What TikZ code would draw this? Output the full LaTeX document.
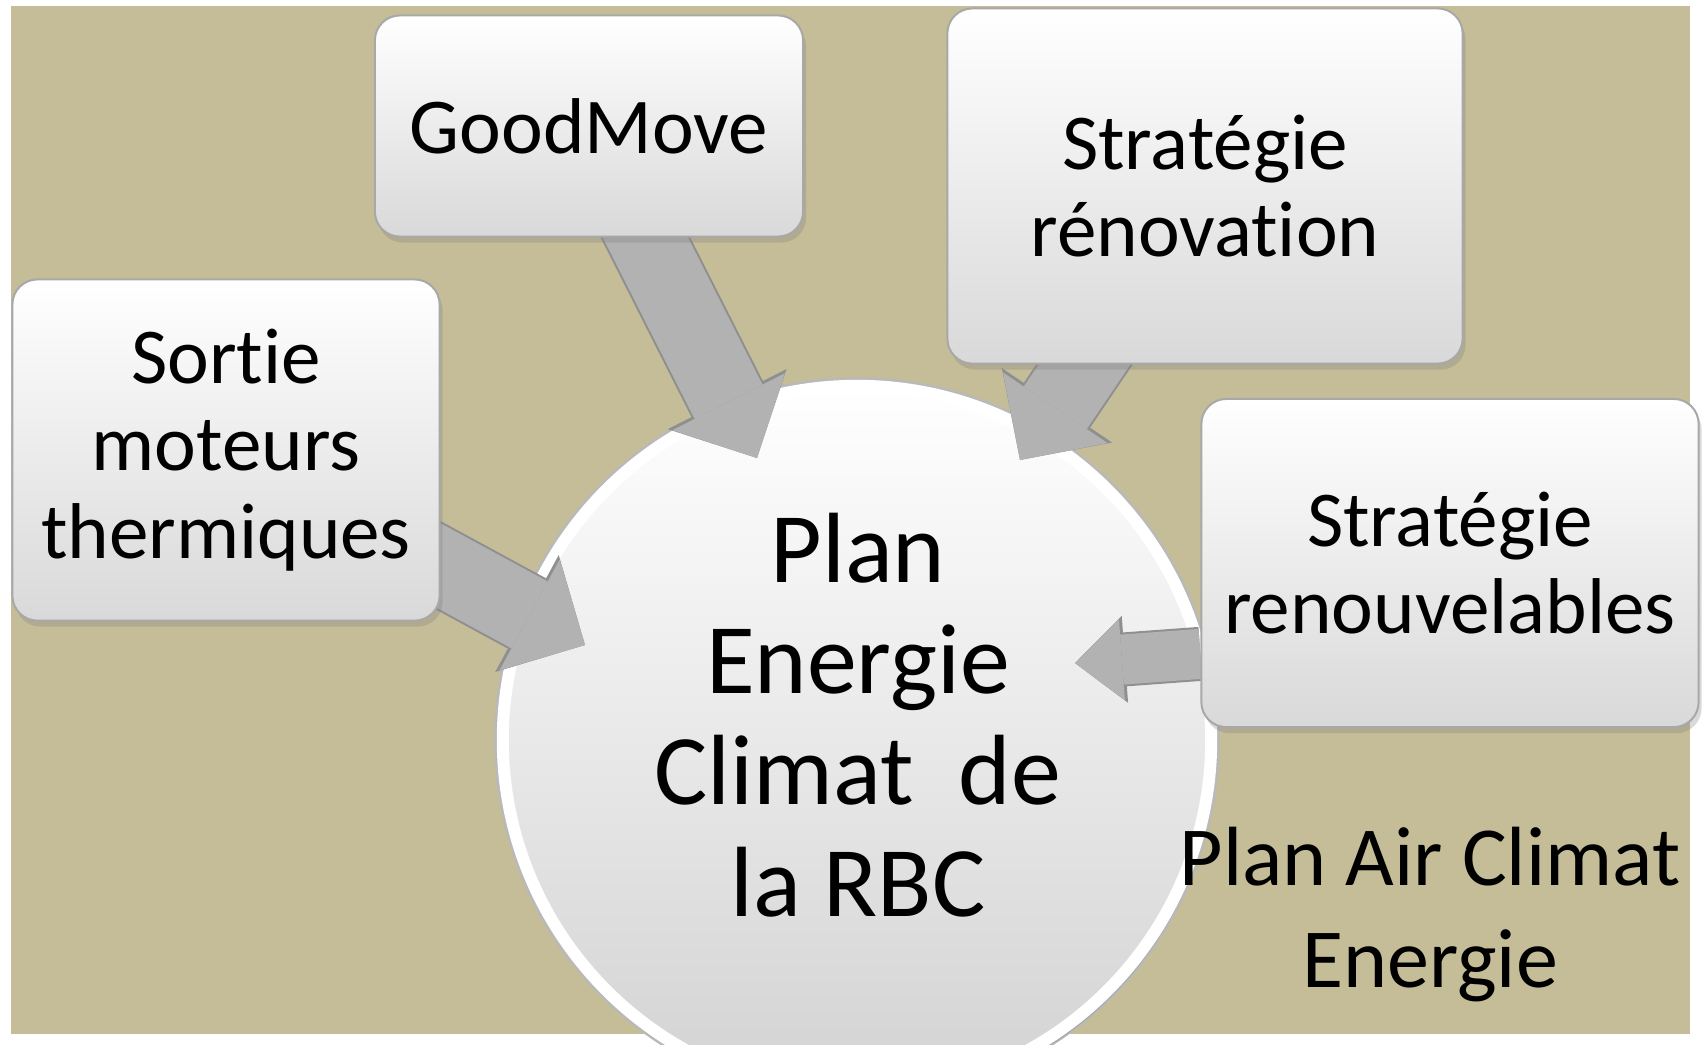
\documentclass[tikz,border=0pt]{standalone}
\usepackage{fontspec}
\setmainfont{Carlito}[Ligatures=NoCommon]
\usetikzlibrary{arrows.meta,shadows}

\definecolor{tanbg}{HTML}{C4BD97}
\definecolor{arrowgrey}{HTML}{B2B2B2}
\definecolor{arrowedge}{HTML}{8F8F8F}
\definecolor{boxedge}{HTML}{A8A8A8}

\newcommand{\boxfont}{\fontsize{22.5pt}{24.8pt}\selectfont}
\newcommand{\hubfont}{\fontsize{28.4pt}{31.6pt}\selectfont}
\newcommand{\airfont}{\fontsize{23.9pt}{29pt}\selectfont}

\pgfdeclarelayer{back}
\pgfdeclarelayer{arrowlayer}
\pgfsetlayers{back,arrowlayer,main}

\tikzset{
  planbox/.style={rectangle, rounded corners=0.25cm, draw=boxedge, line width=0.02cm,
    top color=white, bottom color=gray!30, inner sep=0pt, align=center, font=\boxfont,
    drop shadow={opacity=0.3, shadow xshift=0.03cm, shadow yshift=-0.06cm}},
  hub/.style={circle, minimum size=7.08cm, inner sep=0pt, draw=white, line width=0.12cm,
    top color=white, bottom color=gray!35,
    preaction={draw=gray!55, line width=0.17cm},
    drop shadow={opacity=0.3, shadow xshift=0.04cm, shadow yshift=-0.06cm}},
  bigarrow/.style={arrowgrey, line width=0.76cm,
    -{Triangle[length=0.63cm, width=1.26cm, line width=0pt]},
    preaction={draw=arrowedge, line width=0.80cm,
      -{Triangle[length=0.66cm, width=1.33cm, line width=0pt]}}},
  smallarrow/.style={arrowgrey, line width=0.50cm,
    -{Triangle[length=0.47cm, width=0.81cm, line width=0pt]},
    preaction={draw=arrowedge, line width=0.54cm,
      -{Triangle[length=0.50cm, width=0.87cm, line width=0pt]}}}
}

\begin{document}
\begin{tikzpicture}[x=0.01cm, y=-0.01cm]
  \useasboundingbox (0,0) rectangle (1702,1044);
  \begin{pgfonlayer}{back}
    \fill[tanbg] (11,6) rectangle (1690,1034);
    \node[hub] (plan) at (857,740) {};
  \end{pgfonlayer}

  % the four feeding plans
  \node[planbox, minimum width=4.28cm, minimum height=2.21cm] (good) at (589,126) {GoodMove};
  \node[planbox, minimum width=5.15cm, minimum height=3.55cm] (reno) at (1205,186) {Stratégie\\rénovation};
  \node[planbox, minimum width=4.27cm, minimum height=3.41cm] (sortie) at (226,450) {Sortie\\moteurs\\thermiques};
  \node[planbox, minimum width=4.97cm, minimum height=3.28cm] (renouv) at (1450,563) {Stratégie\\renouvelables};

  \node[font=\hubfont, align=center] (hubtext) at (858,715) {Plan\\Energie\\Climat\ \ de\\la RBC};
  \node[font=\airfont, align=center] (pace) at (1430,915) {Plan Air Climat\\Energie};

  \coordinate (tipgood) at (757,458);
  \coordinate (tipreno) at (1020,460);
  \coordinate (tipsortie) at (585,645);
  \coordinate (tiprenouv) at (1075,663);

  \begin{pgfonlayer}{arrowlayer}
    \draw[bigarrow] (good.center) -- (tipgood);
    \draw[bigarrow] (reno.center) -- (tipreno);
    \draw[bigarrow] (sortie.center) -- (tipsortie);
    \draw[smallarrow] (renouv.200) -- (tiprenouv);
  \end{pgfonlayer}
\end{tikzpicture}
\end{document}
